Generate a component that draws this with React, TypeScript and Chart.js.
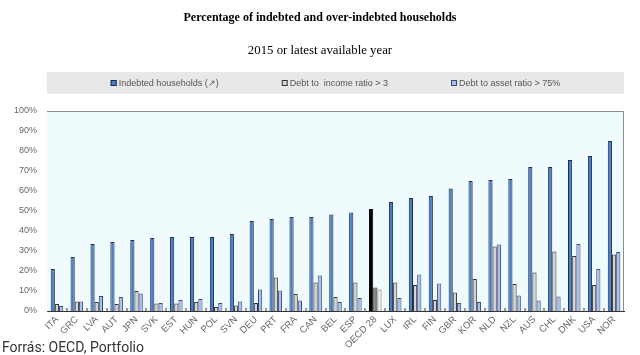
import React, { useEffect, useRef } from "react";
import { Chart, registerables } from "chart.js";

Chart.register(...registerables);

const titleText = "Percentage of indebted and over-indebted households";
const subtitleText = "2015 or latest available year";
const sourceText = "Forrás: OECD, Portfolio";

const categories = ["ITA","GRC","LVA","AUT","JPN","SVK","EST","HUN","POL","SVN","DEU","PRT","FRA","CAN","BEL","ESP","OECD 28","LUX","IRL","FIN","GBR","KOR","NLD","NZL","AUS","CHL","DNK","USA","NOR"];

const indebted = [21, 27, 33.5, 34.5, 35.5, 36.5, 37, 37, 37, 38.5, 45, 46, 47, 47, 48.3, 49.3, 51, 54.5, 56.5, 57.5, 61.3, 65, 65.5, 66, 72, 72, 75.5, 77.5, 85];
const debtToIncome = [3.5, 4.8, 4.5, 3.5, 10, 3.7, 3.8, 4.5, 2, 2.7, 4, 16.8, 8.5, 14.2, 7, 14.3, 11.7, 14.2, 13, 5.5, 9.3, 16, 32.3, 13.5, 19.3, 29.8, 27.5, 13, 28.2];
const debtToAsset = [2.5, 4.8, 7.5, 7, 8.7, 4, 5.5, 6, 4, 4.8, 10.8, 10.3, 5.2, 17.8, 4.5, 6.5, 10.7, 6.5, 18.2, 13.8, 4, 4.5, 33.2, 7.8, 5.2, 7.2, 33.5, 21, 29.5];

const seriesLabels = ["Indebted households (\u2197)", "Debt to  income ratio > 3", "Debt to asset ratio > 75%"];
const yTicks = [0, 10, 20, 30, 40, 50, 60, 70, 80, 90, 100];

const highlight = "OECD 28";
const colorsFor = (normal: string, special: string) =>
  categories.map((c) => (c === highlight ? special : normal));

const legendFill = ["#4A7EC6", "#D4D4D4", "#A9BDEE"];
const legendBorder = ["#1C2E50", "#333333", "#3A4A70"];

const decorPlugin = {
  id: "decor",
  beforeDatasetsDraw(chart: any) {
    const { ctx, chartArea } = chart;
    ctx.save();
    ctx.fillStyle = "#EFFBFC";
    ctx.fillRect(chartArea.left, chartArea.top, chartArea.right - chartArea.left, chartArea.bottom - chartArea.top);
    ctx.restore();
  },
  afterDraw(chart: any) {
    const { ctx, chartArea, width } = chart;
    const xs = chart.scales.x;
    ctx.save();
    ctx.strokeStyle = "#8C8C8C";
    ctx.lineWidth = 1;
    ctx.beginPath();
    ctx.moveTo(chartArea.left, chartArea.top + 0.5);
    ctx.lineTo(chartArea.right - 0.5, chartArea.top + 0.5);
    ctx.lineTo(chartArea.right - 0.5, chartArea.bottom);
    ctx.stroke();
    ctx.fillStyle = "#9A9A9A";
    for (let i = 1; i < categories.length; i++) {
      const x = (xs.getPixelForValue(i - 1) + xs.getPixelForValue(i)) / 2;
      ctx.fillRect(Math.round(x) - 1, chartArea.bottom - 3, 2, 3);
    }
    ctx.fillStyle = "#000";
    ctx.textAlign = "center";
    ctx.textBaseline = "middle";
    ctx.font = 'bold 12px "Liberation Serif", serif';
    ctx.fillText(titleText, width / 2, 18);
    ctx.font = '12.8px "Liberation Serif", serif';
    ctx.fillText(subtitleText, width / 2, 51);
    const lTop = 72, lBottom = 94;
    ctx.fillStyle = "#E8E8E8";
    ctx.fillRect(chartArea.left, lTop, chartArea.right - chartArea.left, lBottom - lTop);
    ctx.font = '9px "Liberation Sans", Arial, sans-serif';
    ctx.textAlign = "left";
    const icon = 6, iconGap = 2, itemGap = 63;
    const widths = seriesLabels.map((t) => icon + iconGap + ctx.measureText(t).width);
    const total = widths.reduce((a, b) => a + b, 0) + itemGap * (widths.length - 1);
    let x = (chartArea.left + chartArea.right) / 2 - total / 2;
    const cy = (lTop + lBottom) / 2;
    seriesLabels.forEach((t, i) => {
      ctx.fillStyle = legendFill[i];
      ctx.fillRect(x, cy - icon / 2, icon, icon);
      ctx.strokeStyle = legendBorder[i];
      ctx.strokeRect(x + 0.5, cy - icon / 2 + 0.5, icon - 1, icon - 1);
      ctx.fillStyle = "#555555";
      ctx.fillText(t, x + icon + iconGap, cy + 0.5);
      x += widths[i] + itemGap;
    });
    ctx.fillStyle = "#333";
    ctx.font = '14px Roboto, sans-serif';
    ctx.textBaseline = "alphabetic";
    ctx.fillText(sourceText, 2, 352);
    ctx.restore();
  },
};

export default function App() {
  const ref = useRef<HTMLCanvasElement | null>(null);
  useEffect(() => {
    if (!ref.current) return;
    const chart = new Chart(ref.current, {
      type: "bar",
      data: {
        labels: categories,
        datasets: [
          {
            label: seriesLabels[0],
            data: indebted,
            backgroundColor: colorsFor("#4A7EC6", "#000000"),
            borderColor: colorsFor("#1C2E50", "#000000"),
            borderWidth: 1,
          },
          {
            label: seriesLabels[1],
            data: debtToIncome,
            backgroundColor: colorsFor("#D4D4D4", "#808080"),
            borderColor: colorsFor("#333333", "#333333"),
            borderWidth: 1,
          },
          {
            label: seriesLabels[2],
            data: debtToAsset,
            backgroundColor: colorsFor("#A9BDEE", "#ECECEC"),
            borderColor: colorsFor("#3A4A70", "#777777"),
            borderWidth: 1,
          },
        ],
      },
      options: {
        responsive: false,
        animation: false,
        layout: { padding: { top: 111, right: 16, left: 0, bottom: 0 } },
        datasets: { bar: { categoryPercentage: 0.63, barPercentage: 1.0 } },
        plugins: {
          legend: { display: false },
          title: { display: false },
          tooltip: { enabled: false },
        },
        scales: {
          x: {
            grid: { display: false, drawTicks: false },
            border: { display: true, color: "#333" },
            ticks: {
              color: "#666",
              font: { family: '"Liberation Sans", Arial, sans-serif', size: 9.5 },
              minRotation: 45,
              maxRotation: 45,
              autoSkip: false,
              padding: 3,
            },
            afterFit: (s: any) => { s.height = 44; },
          },
          y: {
            min: 0,
            max: 100,
            afterBuildTicks: (s: any) => { s.ticks = yTicks.map((v) => ({ value: v })); },
            grid: { display: false, drawTicks: false },
            border: { display: true, color: "#555" },
            ticks: {
              color: "#666",
              font: { family: '"Liberation Sans", Arial, sans-serif', size: 9 },
              padding: 10,
              callback: (v: any) => v + "%",
            },
            afterFit: (s: any) => { s.width = 47; },
          },
        },
      },
      plugins: [decorPlugin],
    });
    return () => chart.destroy();
  }, []);
  return (
    <div style={{ position: "absolute", left: 0, top: 0, width: 640, height: 355, background: "#fff" }}>
      <canvas ref={ref} width={640} height={355} />
    </div>
  );
}
